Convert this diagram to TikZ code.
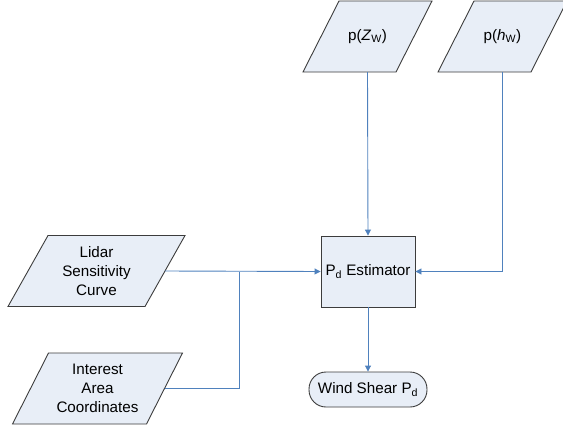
\documentclass[tikz,border=0pt]{standalone}
\usepackage{fontspec}
\setmainfont{Liberation Sans}
\usetikzlibrary{arrows.meta}
\definecolor{boxfill}{RGB}{232,238,247}
\definecolor{boxline}{RGB}{60,60,60}
\definecolor{linkblue}{RGB}{79,129,189}
\tikzset{
  base/.style={draw=boxline, fill=boxfill, line width=0.9pt, inner sep=0pt,
    align=center, font=\fontsize{15.2}{19}\selectfont},
  ioshape/.style={draw=boxline, fill=boxfill, line width=0.9pt, line join=miter},
  iotext/.style={rectangle, inner sep=0pt, align=center, minimum height=71pt,
    font=\fontsize{15.2}{19}\selectfont},
  procbox/.style={base, rectangle, minimum width=94pt, minimum height=71pt},
  termbox/.style={base, rectangle, rounded corners=17pt, minimum width=118pt, minimum height=35pt},
  link/.style={draw=linkblue, line width=0.9pt, -{Triangle[length=6pt,width=6pt]}},
  plainlink/.style={draw=linkblue, line width=0.9pt},
}
% data parallelogram: name, centre x, centre y, total width, slant offset, text
\newcommand\dataio[6]{%
  \path[ioshape] (#2-#4/2+#5,#3-35.5) -- (#2+#4/2,#3-35.5)
    -- (#2+#4/2-#5,#3+35.5) -- (#2-#4/2,#3+35.5) -- cycle;
  \node[iotext, minimum width=#4pt-#5pt] (#1) at (#2,#3) {#6};}
\begin{document}
\begin{tikzpicture}[x=1pt,y=-1pt]
\useasboundingbox (0,0) rectangle (563,429);
\dataio{zw}{367.5}{36.5}{129}{36}{p(\textit{Z}\textsubscript{W})}
\dataio{hw}{502.5}{36.5}{129}{36}{p(\textit{h}\textsubscript{W})}
\dataio{lidar}{96.5}{271}{177}{40}{Lidar\\Sensitivity\\Curve}
\dataio{area}{97.5}{388.5}{170}{36}{Interest\\Area\\Coordinates}
\node[procbox] (est) at (368,271.5) {P\textsubscript{d} Estimator};
\node[termbox] (ws) at (368,389.5) {Wind Shear P\textsubscript{d}};
\coordinate (join) at (239,271.5);
\draw[link] (zw.south) -- (est.north);
\draw[link] (hw.south) |- (est.east);
\draw[link] (lidar.east) -- (est.west);
\draw[plainlink] (area.east) -| (join);
\draw[link] (est.south) -- (ws.north);
\end{tikzpicture}
\end{document}
